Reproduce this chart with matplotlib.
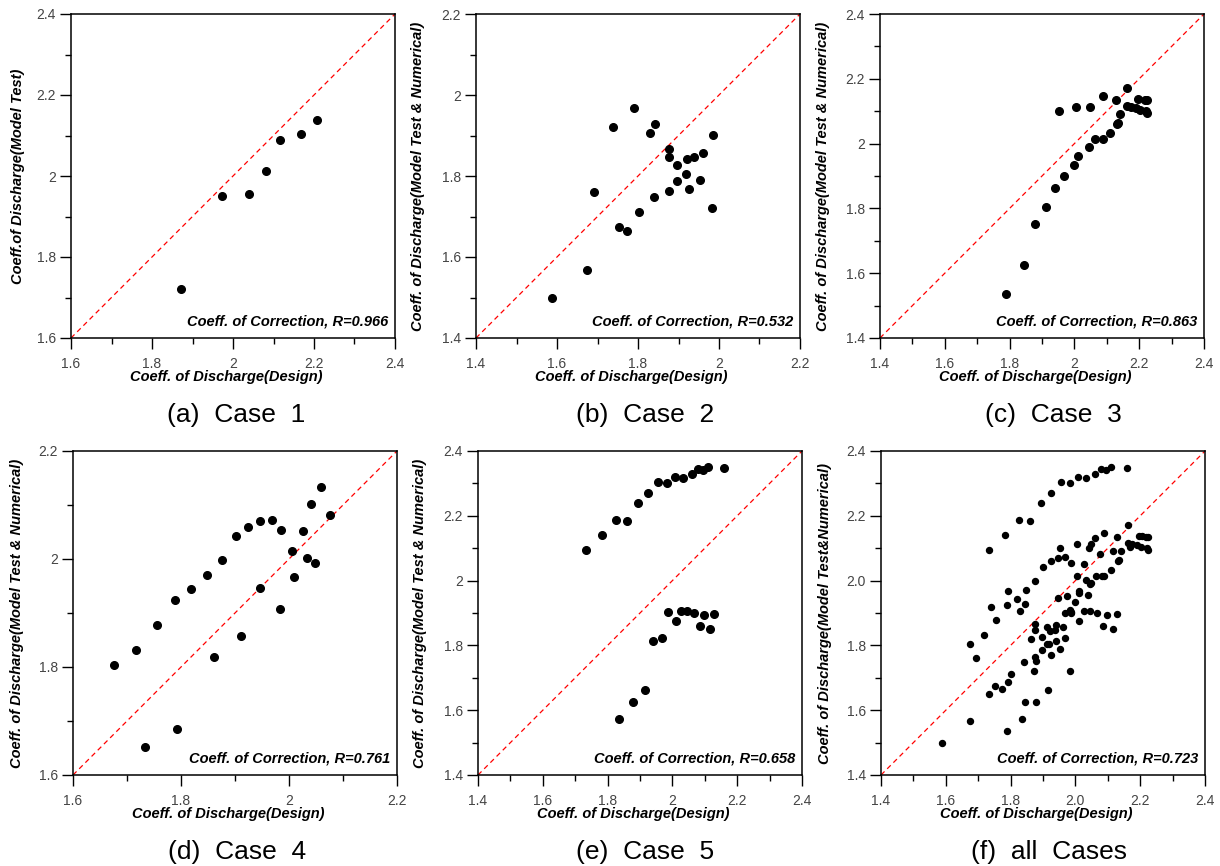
import numpy as np
import matplotlib
matplotlib.use('Agg')
from matplotlib import pyplot as plt
from matplotlib.ticker import MultipleLocator, FormatStrFormatter, FuncFormatter

plt.rcParams['font.family'] = ['Liberation Sans', 'DejaVu Sans']

# values
case1_x = [1.872, 1.974, 2.039, 2.081, 2.117, 2.168, 2.207]
case1_y = [1.721, 1.951, 1.955, 2.013, 2.090, 2.103, 2.138]

case2_x = [1.588, 1.674, 1.692, 1.739, 1.752, 1.774, 1.791, 1.802, 1.829, 1.843, 1.840, 1.876,
           1.876, 1.876, 1.896, 1.896, 1.918, 1.921, 1.926, 1.938, 1.952, 1.961, 1.985, 1.982]
case2_y = [1.500, 1.568, 1.761, 1.920, 1.674, 1.664, 1.967, 1.712, 1.907, 1.929, 1.748, 1.866,
           1.846, 1.764, 1.826, 1.787, 1.805, 1.843, 1.769, 1.846, 1.790, 1.856, 1.901, 1.722]

case3_x = [1.790, 1.844, 1.877, 1.911, 1.941, 1.968, 2.000, 2.012, 2.044, 2.065, 2.088, 2.109,
           2.130, 2.136, 2.142, 1.954, 2.006, 2.048, 2.087, 2.128, 2.163, 2.161, 2.176, 2.189,
           2.196, 2.201, 2.217, 2.223, 2.222, 2.224]
case3_y = [1.535, 1.624, 1.751, 1.805, 1.862, 1.901, 1.935, 1.963, 1.988, 2.013, 2.015, 2.033,
           2.059, 2.065, 2.092, 2.102, 2.112, 2.114, 2.148, 2.135, 2.172, 2.116, 2.114, 2.110,
           2.138, 2.104, 2.135, 2.135, 2.102, 2.094]

case4_x = [1.676, 1.717, 1.734, 1.755, 1.788, 1.792, 1.819, 1.849, 1.862, 1.876, 1.901, 1.911,
           1.924, 1.947, 1.947, 1.968, 1.984, 1.986, 2.006, 2.010, 2.025, 2.033, 2.041, 2.049,
           2.059, 2.075]
case4_y = [1.803, 1.832, 1.651, 1.877, 1.925, 1.686, 1.944, 1.971, 1.819, 1.999, 2.043, 1.858,
           2.060, 2.070, 1.947, 2.072, 1.908, 2.054, 2.014, 1.967, 2.051, 2.002, 2.102, 1.993,
           2.133, 2.081]

case5_x = [1.734, 1.783, 1.825, 1.859, 1.894, 1.925, 1.955, 1.984, 2.009, 2.034, 2.059, 2.079,
           2.095, 2.110, 2.160, 1.834, 1.879, 1.915, 1.940, 1.968, 1.987, 2.011, 2.028, 2.046,
           2.066, 2.084, 2.098, 2.116, 2.129]
case5_y = [2.094, 2.142, 2.186, 2.185, 2.238, 2.270, 2.304, 2.301, 2.321, 2.318, 2.330, 2.345,
           2.341, 2.351, 2.348, 1.574, 1.625, 1.663, 1.814, 1.822, 1.903, 1.875, 1.905, 1.905,
           1.899, 1.860, 1.893, 1.851, 1.898]

all_x = case1_x + case2_x + case3_x + case4_x + case5_x
all_y = case1_y + case2_y + case3_y + case4_y + case5_y

panels = [
    # x, y, limits, ylabel, R text, caption
    (case1_x, case1_y, (1.6, 2.4), 'Coeff.of Discharge(Model Test)', '0.966', '(a)  Case  1'),
    (case2_x, case2_y, (1.4, 2.2), 'Coeff. of Discharge(Model Test & Numerical)', '0.532', '(b)  Case  2'),
    (case3_x, case3_y, (1.4, 2.4), 'Coeff. of Discharge(Model Test & Numerical)', '0.863', '(c)  Case  3'),
    (case4_x, case4_y, (1.6, 2.2), 'Coeff. of Discharge(Model Test & Numerical)', '0.761', '(d)  Case  4'),
    (case5_x, case5_y, (1.4, 2.4), 'Coeff. of Discharge(Model Test & Numerical)', '0.658', '(e)  Case  5'),
    (all_x, all_y, (1.4, 2.4), 'Coeff. of Discharge(Model Test&Numerical)', '0.723', '(f)  all  Cases'),
]

# axes boxes in pixels: left, top
boxes = [(71, 14), (476, 14), (880, 14), (73, 451), (478, 451), (881, 451)]
ylab_x = [-0.142, -0.158, -0.155, -0.152, -0.158, -0.152]
captions_xy = [(236, 415), (645, 415), (1053, 415), (237, 852), (645, 852), (1049, 852)]

W, H = 1220, 866
fig = plt.figure(figsize=(W / 100, H / 100), dpi=100)

for i, (xs, ys, lim, ylab, r, cap) in enumerate(panels):
    left, top = boxes[i]
    ax = fig.add_axes([left / W, (H - top - 324) / H, 324 / W, 324 / H])
    ax.plot(lim, lim, color='red', lw=0.9, linestyle=(0, (4, 3)), zorder=1)
    ms = 4.3 if i == 5 else 5.5
    ax.plot(xs, ys, 'o', color='black', markersize=ms, zorder=2)
    ax.set_xlim(lim)
    ax.set_ylim(lim)
    ax.xaxis.set_major_locator(MultipleLocator(0.2))
    ax.xaxis.set_minor_locator(MultipleLocator(0.1))
    ax.yaxis.set_major_locator(MultipleLocator(0.2))
    ax.yaxis.set_minor_locator(MultipleLocator(0.1))
    if i == 5:
        fmt = FormatStrFormatter('%.1f')
    else:
        fmt = FuncFormatter(lambda v, p: '%g' % round(v, 2))
    ax.xaxis.set_major_formatter(fmt)
    ax.yaxis.set_major_formatter(fmt)
    ax.tick_params(which='both', direction='out', top=False, right=False,
                   labelsize=10, labelcolor='#444444', width=1.0)
    ax.tick_params(which='major', length=8)
    ax.tick_params(which='minor', length=4.5)
    ax.tick_params(axis='x', pad=6)
    ax.tick_params(axis='y', pad=3)
    for s in ax.spines.values():
        s.set_linewidth(1.1)
    ax.set_xlabel('Coeff. of Discharge(Design)', fontsize=10.5, fontweight='bold', style='italic')
    ax.xaxis.set_label_coords(0.48, -0.10)
    ax.set_ylabel(ylab, fontsize=10.5, fontweight='bold', style='italic')
    ax.yaxis.set_label_coords(ylab_x[i], 0.5)
    ax.text(0.98, 0.03, 'Coeff. of Correction, R=' + r, transform=ax.transAxes,
            ha='right', va='bottom', fontsize=10.5, fontweight='bold', style='italic')
    cx, cy = captions_xy[i]
    fig.text(cx / W, 1 - cy / H, cap, ha='center', va='center', fontsize=19)

plt.savefig('out.png', dpi=100)
